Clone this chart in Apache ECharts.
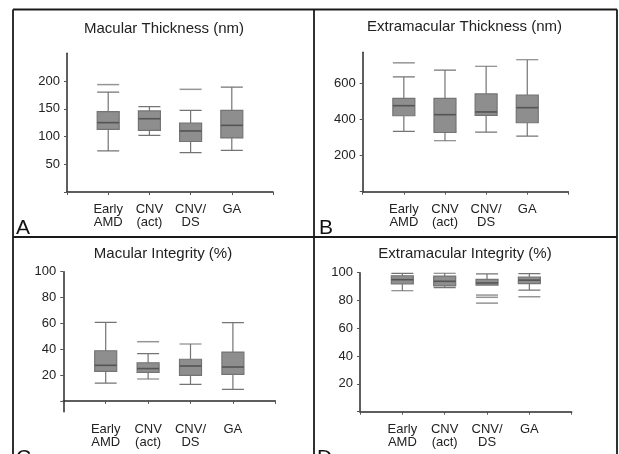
<!DOCTYPE html>
<html><head><meta charset="utf-8">
<script src="https://cdn.jsdelivr.net/npm/echarts@6/dist/echarts.min.js"></script>
<style>html,body{margin:0;padding:0;background:#fff}#c{width:619px;height:454px}</style>
</head><body><div id="c"></div>
<script>
// ---- data ----
const groups = ['Early\nAMD', 'CNV\n(act)', 'CNV/\nDS', 'GA'];
const axisCategories = ['', 'Early\nAMD', 'CNV\n(act)', 'CNV/\nDS', 'GA', ''];
const titles = ['Macular Thickness (nm)', 'Extramacular Thickness (nm)', 'Macular Integrity (%)', 'Extramacular Integrity (%)'];
const panelLetters = ['A', 'B', 'C', 'D'];

// [min, Q1, median, Q3, max] per group
const macularThickness = [[74, 113, 125, 145, 180], [102, 111, 132, 146, 154], [71, 91, 110, 124, 147], [75, 97.5, 120, 147, 189]];
const extramacularThickness = [[335, 422, 478, 519, 638], [283, 329, 428, 519, 675], [331, 424, 443, 543, 697], [309, 383, 467, 536, 733]];
const macularIntegrity = [[13.8, 22.8, 27.5, 38.8, 60.7], [16.9, 22, 25, 29.5, 36.5], [12.8, 19.7, 27, 32.2, 44], [8.9, 20.5, 26.2, 37.8, 60.5]];
const extramacularIntegrity = [[87, 92, 95, 97.8, 99.5], [89.3, 90.5, 93.8, 97.6, 99.6], [91, 91.1, 92.6, 95.2, 99.2], [87.5, 92.1, 94.6, 96.9, 99.4]];

// outliers: [groupIndex, value]
const macularThicknessOut = [[0, 193.5], [2, 185]];
const extramacularThicknessOut = [[0, 716]];
const macularIntegrityOut = [[1, 45.8]];
const extramacularIntegrityOut = [[2, 83.9], [2, 82.3], [2, 78.1], [3, 82.7]];

// y axis ranges / ticks
const yMin = [0, 0, -8.4, 0];
const yMax = [250, 775, 100, 100];
const yTicks = [[0, 50, 100, 150, 200], [0, 200, 400, 600], [0, 20, 40, 60, 80, 100], [0, 20, 40, 60, 80, 100]];
const yLabels = [[50, 100, 150, 200], [200, 400, 600], [20, 40, 60, 80, 100], [20, 40, 60, 80, 100]];

const panelBoxes = [macularThickness, extramacularThickness, macularIntegrity, extramacularIntegrity];
const panelOut = [macularThicknessOut, extramacularThicknessOut, macularIntegrityOut, extramacularIntegrityOut];

// ---- layout ----
const grids = [
  {left: 67, top: 53.25, width: 206, height: 138.75},
  {left: 362.7, top: 52.2, width: 205.7, height: 139.5},
  {left: 63.3, top: 271.7, width: 212, height: 140},
  {left: 360, top: 272.7, width: 211.7, height: 139}
];
const titlePos = [[164, 29], [464.5, 27], [163, 253.5], [465, 254]];
const letterPos = [[16, 218], [319, 218], [16, 448], [317, 448]];

const FONT = '"Liberation Sans", Arial, Helvetica, sans-serif';
const BOX_W = 22;

const xAxes = [], yAxes = [], series = [], graphics = [];
for (let p = 0; p < 4; p++) {
  xAxes.push({
    type: 'category', gridIndex: p, data: axisCategories, boundaryGap: false,
    axisLine: {lineStyle: {color: '#2a2a2a', width: 1.5}},
    axisTick: {show: true, length: 3, lineStyle: {color: '#555'}},
    axisLabel: {interval: 0, color: '#222', fontFamily: FONT, fontSize: 13, lineHeight: 13, margin: 11},
    splitLine: {show: false}
  });
  yAxes.push({
    type: 'value', gridIndex: p, min: yMin[p], max: yMax[p],
    axisLine: {show: true, lineStyle: {color: '#2a2a2a', width: 1.5}},
    axisTick: {show: true, length: 3, customValues: yTicks[p], lineStyle: {color: '#555'}},
    axisLabel: {customValues: yLabels[p], color: '#222', fontFamily: FONT, fontSize: 13, margin: 7},
    splitLine: {show: false}
  });
  series.push({
    type: 'boxplot', xAxisIndex: p, yAxisIndex: p,
    boxWidth: [BOX_W, BOX_W],
    encode: {x: 0, y: [1, 2, 3, 4, 5]},
    data: panelBoxes[p].map((b, i) => [i + 1].concat(b)),
    itemStyle: {color: '#8e8e8e', borderColor: '#747474', borderWidth: 1.2},
    silent: true
  });
  series.push({
    type: 'scatter', xAxisIndex: p, yAxisIndex: p,
    symbol: 'rect', symbolSize: [BOX_W, 1.6],
    data: panelBoxes[p].map((b, i) => [i + 1, b[2]]),
    itemStyle: {color: '#4e4e4e'}, silent: true, z: 5
  });
  series.push({
    type: 'scatter', xAxisIndex: p, yAxisIndex: p,
    symbol: 'rect', symbolSize: [BOX_W, 1.5],
    data: panelOut[p].map(o => [o[0] + 1, o[1]]),
    itemStyle: {color: '#7a7a7a'}, silent: true
  });
  graphics.push({
    type: 'text', x: titlePos[p][0], y: titlePos[p][1],
    style: {text: titles[p], fill: '#222', font: '15px ' + FONT, align: 'center', verticalAlign: 'middle'}
  });
  graphics.push({
    type: 'text', x: letterPos[p][0], y: letterPos[p][1],
    style: {text: panelLetters[p], fill: '#111', font: '21px ' + FONT, align: 'left', verticalAlign: 'top'}
  });
}
// frame lines
const frame = {stroke: '#1a1a1a', lineWidth: 1.8};
graphics.push({type: 'line', shape: {x1: 13, y1: 9.5, x2: 617, y2: 9.5}, style: frame});
graphics.push({type: 'line', shape: {x1: 13, y1: 9.5, x2: 13, y2: 454}, style: frame});
graphics.push({type: 'line', shape: {x1: 617, y1: 9.5, x2: 617, y2: 454}, style: frame});
graphics.push({type: 'line', shape: {x1: 314, y1: 9.5, x2: 314, y2: 454}, style: frame});
graphics.push({type: 'line', shape: {x1: 13, y1: 237, x2: 617, y2: 237}, style: frame});

const chart = echarts.init(document.getElementById('c'), null, {renderer: 'canvas'});
chart.setOption({
  animation: false,
  backgroundColor: '#fff',
  grid: grids,
  xAxis: xAxes,
  yAxis: yAxes,
  series: series,
  graphic: graphics
});
</script></body></html>
